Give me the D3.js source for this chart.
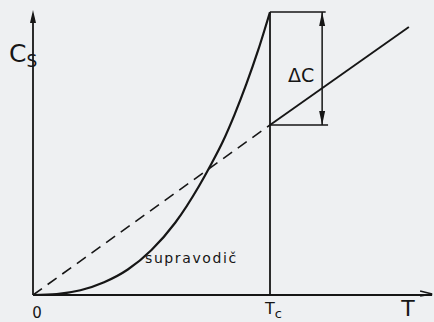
<!DOCTYPE html>
<html>
<head>
<meta charset="utf-8">
<script src="https://cdn.jsdelivr.net/npm/d3@7"></script>
<style>
  html, body { margin: 0; padding: 0; background: #eef0f2; }
  svg { display: block; }
  text { font-family: "DejaVu Sans", sans-serif; fill: #161616; }
</style>
</head>
<body>
<svg id="chart" width="434" height="322"></svg>
<script>
// Specific heat of a superconductor (below Tc) versus the normal state.
// Temperatures in units of Tc, heat capacity in units of the normal value at Tc.
const superT = [0, 0.1, 0.2, 0.3, 0.4, 0.5, 0.6, 0.7, 0.75, 0.8, 0.85, 0.9, 0.95, 1.0];
const superC = [0, 0.006, 0.028, 0.075, 0.15, 0.265, 0.425, 0.64, 0.765, 0.9, 1.06, 1.24, 1.44, 1.665];
const normalBelowT = [0, 1];
const normalBelowC = [0, 1];
const normalAboveT = [1, 1.586];
const normalAboveC = [1, 1.576];
const Tc = 1;
const jumpTop = 1.665;
const jumpBottom = 1;
const deltaAt = 1.22;
const axisMaxT = 1.684;
const axisMaxC = 1.676;
const labels = { yAxis: "C", ySub: "S", xAxis: "T", origin: "0", tc: "T", tcSub: "c", delta: "ΔC", curve: "supravodič" };

const ink = "#161616";
const svg = d3.select("#chart");
const x = d3.scaleLinear().domain([0, 1]).range([33, 270]);
const y = d3.scaleLinear().domain([0, 1]).range([295, 125]);

const line = d3.line().x(d => x(d[0])).y(d => y(d[1]));
const zip = (a, b) => a.map((v, i) => [v, b[i]]);

// axes
svg.append("line").attr("x1", x(0)).attr("y1", y(0)).attr("x2", x(0)).attr("y2", y(axisMaxC) + 6)
  .attr("stroke", ink).attr("stroke-width", 1.8);
svg.append("path")
  .attr("d", `M${x(0)},${y(axisMaxC)} L${x(0) - 3},${y(axisMaxC) + 13} L${x(0) + 3},${y(axisMaxC) + 13} Z`)
  .attr("fill", ink);
svg.append("line").attr("x1", x(0)).attr("y1", y(0)).attr("x2", x(axisMaxT)).attr("y2", y(0))
  .attr("stroke", ink).attr("stroke-width", 1.8);
svg.append("path")
  .attr("d", `M${x(axisMaxT) - 12},${y(0) - 4} L${x(axisMaxT)},${y(0) - 1} L${x(axisMaxT) - 12},${y(0) + 1}`)
  .attr("fill", "none").attr("stroke", ink).attr("stroke-width", 1.6);

// Tc vertical line
svg.append("line").attr("x1", x(Tc)).attr("y1", y(0)).attr("x2", x(Tc)).attr("y2", y(jumpTop))
  .attr("stroke", ink).attr("stroke-width", 1.8);

// normal state: dashed extrapolation below Tc, solid above
svg.append("path").datum(zip(normalBelowT, normalBelowC)).attr("d", line)
  .attr("fill", "none").attr("stroke", ink).attr("stroke-width", 1.6).attr("stroke-dasharray", "11,7");
svg.append("path").datum(zip(normalAboveT, normalAboveC)).attr("d", line)
  .attr("fill", "none").attr("stroke", ink).attr("stroke-width", 1.9);

// superconducting curve
svg.append("path").datum(zip(superT, superC)).attr("d", line.curve(d3.curveMonotoneX))
  .attr("fill", "none").attr("stroke", ink).attr("stroke-width", 2.2);

// jump bracket
svg.append("line").attr("x1", x(Tc)).attr("y1", y(jumpTop)).attr("x2", x(deltaAt + 0.015)).attr("y2", y(jumpTop))
  .attr("stroke", ink).attr("stroke-width", 1.6);
svg.append("line").attr("x1", x(Tc)).attr("y1", y(jumpBottom)).attr("x2", x(deltaAt + 0.025)).attr("y2", y(jumpBottom))
  .attr("stroke", ink).attr("stroke-width", 1.6);
svg.append("line").attr("x1", x(deltaAt)).attr("y1", y(jumpTop)).attr("x2", x(deltaAt)).attr("y2", y(jumpBottom))
  .attr("stroke", ink).attr("stroke-width", 1.5);
const ax = x(deltaAt), at = y(jumpTop), ab = y(jumpBottom);
svg.append("path").attr("d", `M${ax},${at} L${ax - 3},${at + 14} L${ax + 3},${at + 14} Z`).attr("fill", ink);
svg.append("path").attr("d", `M${ax},${ab} L${ax - 3},${ab - 14} L${ax + 3},${ab - 14} Z`).attr("fill", ink);

// labels
const cs = svg.append("text").attr("x", 9).attr("y", 62).attr("font-size", 25);
cs.append("tspan").text(labels.yAxis);
cs.append("tspan").attr("font-size", 17).attr("dy", 5).text(labels.ySub);

svg.append("text").attr("x", 408).attr("y", 316).attr("font-size", 22).attr("text-anchor", "middle").text(labels.xAxis);
svg.append("text").attr("x", 37).attr("y", 318).attr("font-size", 15).attr("text-anchor", "middle").text(labels.origin);

const tc = svg.append("text").attr("x", 265).attr("y", 314).attr("font-size", 16);
tc.append("tspan").text(labels.tc);
tc.append("tspan").attr("font-size", 13).attr("dy", 4).text(labels.tcSub);

svg.append("text").attr("x", 288).attr("y", 82).attr("font-size", 19).text(labels.delta);
svg.append("text").attr("x", 145).attr("y", 263).attr("font-size", 14).attr("letter-spacing", 1.6).text(labels.curve);
</script>
</body>
</html>
